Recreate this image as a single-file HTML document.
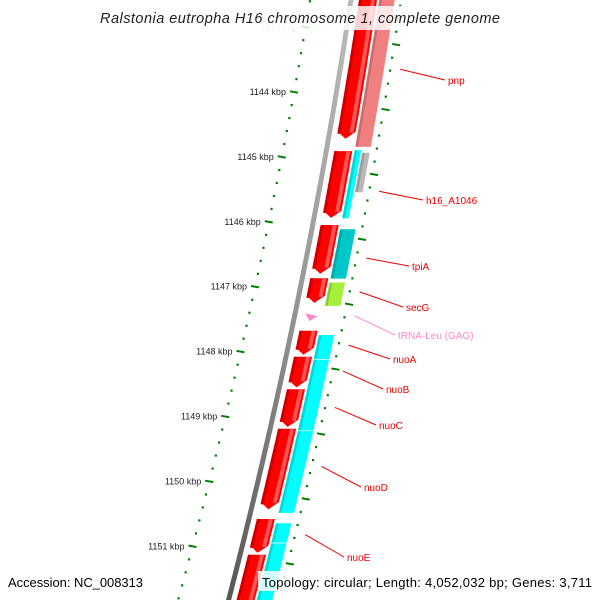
<!DOCTYPE html>
<html><head><meta charset="utf-8">
<style>
html,body{margin:0;padding:0;background:#fff;}
svg{display:block;font-family:"Liberation Sans",sans-serif;}
</style></head>
<body>
<svg id="map" width="600" height="600" viewBox="0 0 600 600">
  <defs>
    <linearGradient id="bb" x1="0" x2="1" y1="0" y2="0">
      <stop offset="0" stop-color="#555"/><stop offset="0.6" stop-color="#999"/><stop offset="1" stop-color="#bbb"/>
    </linearGradient>
  </defs>
  <g id="ruler"></g>
  <g id="tracks"></g>
  <g id="labels"></g>
  <rect x="96" y="6" width="408" height="24" fill="#fff" fill-opacity="0.82"/>
  <text x="300" y="23" text-anchor="middle" font-size="14.5" font-style="italic" fill="#222" textLength="400">Ralstonia eutropha H16 chromosome 1, complete genome</text>
  <rect x="4" y="571" width="142" height="20" fill="#fff" fill-opacity="0.82"/>
  <text x="8" y="587" font-size="13" fill="#000" textLength="135">Accession: NC_008313</text>
  <rect x="258" y="571" width="338" height="20" fill="#fff" fill-opacity="0.82"/>
  <text x="262" y="587" font-size="13" fill="#000" textLength="330">Topology: circular; Length: 4,052,032 bp; Genes: 3,711</text>
</svg>
<script>
// ---- data (kbp) ----
const tickKbp = [1143, 1144, 1145, 1146, 1147, 1148, 1149, 1150, 1151];
const tickLabels = ["1143 kbp","1144 kbp","1145 kbp","1146 kbp","1147 kbp","1148 kbp","1149 kbp","1150 kbp","1151 kbp"];
const fwdStart = [1142.4, 1144.91, 1146.05, 1146.87, 1147.68, 1148.08, 1148.58, 1149.19, 1150.58, 1151.13];
const fwdEnd   = [1144.72, 1145.94, 1146.80, 1147.25, 1148.05, 1148.55, 1149.16, 1150.43, 1151.10, 1152.2];
const trk2Start = [1142.4, 1144.89, 1144.93, 1146.11, 1146.93, 1147.74, 1148.12, 1149.22, 1150.64, 1150.95];
const trk2End   = [1144.85, 1145.95, 1145.55, 1146.88, 1147.30, 1148.12, 1149.22, 1150.49, 1150.95, 1152.2];
const trk2Color = ["#f08080", "#00ffff", "#b8b8b8", "#00c8c8", "#a6f03c", "#00ffff", "#00ffff", "#00ffff", "#00ffff", "#00ffff"];
const trnaStart = 1147.41, trnaEnd = 1147.53;
const labelNames = ["pnp","h16_A1046","tpiA","secG","tRNA-Leu (GAG)","nuoA","nuoB","nuoC","nuoD","nuoE"];
const labelFeatKbp = [1143.65, 1145.53, 1146.56, 1147.08, 1147.45, 1147.90, 1148.30, 1148.86, 1149.77, 1150.82];
// ---- layout ----
const labelPos = [[448,84],[426,204],[412,270],[406,311],[398,339],[393,363],[386,393],[379,429],[364,491],[347,561]];
const labelStartD = [60,60,60,60,60,60,60,60,60,60];

const NS = "http://www.w3.org/2000/svg";
function yOf(k){ return 92 + (k - 1144) * 64.9; }
function x0(y){ return 351 - 0.15*y - 0.00009*y*y; }
function leftD(y){ return -41 - 0.016*y; }
function mk(tag, attrs, parent){
  const e = document.createElementNS(NS, tag);
  for (const a in attrs) e.setAttribute(a, attrs[a]);
  parent.appendChild(e); return e;
}
function band(y1, y2, d1, d2, arrow){
  const pts = [];
  const yb = arrow ? Math.max(y1, y2 - 7) : y2;
  for (let y = y1; y < yb; y += 3) pts.push([x0(y)+d1, y]);
  pts.push([x0(yb)+d1, yb]);
  if (arrow) pts.push([x0(y2)+(d1+d2)/2, y2]);
  pts.push([x0(yb)+d2, yb]);
  for (let y = yb; y > y1; y -= 3) pts.push([x0(y)+d2, y]);
  pts.push([x0(y1)+d2, y1]);
  return pts.map(p => p[0].toFixed(1)+","+p[1].toFixed(1)).join(" ");
}
const ruler = document.getElementById("ruler");
const tracks = document.getElementById("tracks");
const labels = document.getElementById("labels");

// backbone
let bp = "";
for (let y = -5; y <= 605; y += 5) bp += (bp ? " L" : "M") + x0(y).toFixed(1) + "," + y;
const back = mk("path", {d: bp, stroke: "url(#bb)", "stroke-width": 5, fill: "none"}, tracks);



// left ruler
for (let k = 1142.4; k <= 1152.2; k += 0.2) {
  const y = yOf(k);
  const major = Math.abs(k - Math.round(k)) < 0.01;
  const x = x0(y) + leftD(y);
  if (major) {
    const t = mk("line", {x1: x-4, y1: y-0.7, x2: x+4, y2: y+0.7, stroke: "#008000", "stroke-width": 2}, ruler);
    
    
  } else {
    const t = mk("rect", {x: x-1, y: y-1, width: 2.2, height: 2.2, fill: "#008000"}, ruler);
    
    
  }
}
tickKbp.forEach((k, i) => {
  const y = yOf(k);
  const x = x0(y) + leftD(y);
  const t = mk("text", {x: x - 8, y: y + 3, "text-anchor": "end", "font-size": 9, fill: k === 1143 ? "#ccc" : "#222"}, ruler);
  t.textContent = tickLabels[i];
  
  
});
// right ruler
for (let k = 1142.47; k <= 1152.2; k += 0.2) {
  const y = yOf(k);
  const major = Math.abs((k - 0.27) - Math.round(k - 0.27)) < 0.01;
  const x = x0(y) + 50;
  if (major) {
    const t = mk("line", {x1: x-2, y1: y-0.7, x2: x+6, y2: y+0.7, stroke: "#008000", "stroke-width": 2}, ruler);
    
    
  } else {
    const t = mk("rect", {x: x-1, y: y-1, width: 2.2, height: 2.2, fill: "#008000"}, ruler);
    
    
  }
}

// forward genes (red)
fwdStart.forEach((s, i) => {
  const y1 = yOf(s), y2 = yOf(fwdEnd[i]);
  const g = mk("polygon", {points: band(y1, y2, 8, 26, true), fill: "#ff0000"}, tracks);
  
  
  const sh = mk("polygon", {points: band(y1, y2-5, 8, 11, false), fill: "#cc0000"}, tracks);
  
  
  const hl = mk("polygon", {points: band(y1, y2-6, 20, 24, false), fill: "#ff5555"}, tracks);
  
  
});
// second track
trk2Start.forEach((s, i) => {
  const y1 = yOf(s), y2 = yOf(trk2End[i]);
  let d1 = 28, d2 = 44;
  if (i === 1) { d2 = 35; }
  if (i === 2) { d1 = 36; }
  const g = mk("polygon", {points: band(y1, y2, d1, d2, false), fill: trk2Color[i], stroke: "#fff", "stroke-width": 0.6}, tracks);
  
  
  const sh = mk("polygon", {points: band(y1+0.5, y2-0.5, d1, d1+3, false), fill: "#000", "fill-opacity": 0.15}, tracks);
  
  
});
// tRNA
{
  const y1 = yOf(trnaStart), y2 = yOf(trnaEnd);
  const p = [[x0(y1)+10, y1], [x0(y2)+24, y1+3], [x0(y2)+16, y2]];
  const t = mk("polygon", {points: p.map(q => q.join(",")).join(" "), fill: "#ff88cc"}, tracks);
  
  
}
// labels
labelNames.forEach((n, i) => {
  const y = yOf(labelFeatKbp[i]);
  const x = x0(y) + labelStartD[i];
  const col = i === 4 ? "#ff88cc" : "#ee0000";
  const [lx, ly] = labelPos[i];
  const l = mk("line", {x1: x, y1: y, x2: lx - 3, y2: ly - 4, stroke: col, "stroke-width": 1}, labels);
  
  
  const t = mk("text", {x: lx, y: ly, "font-size": 10, fill: col}, labels);
  t.textContent = n;
  
  
});
</script>
</body></html>
